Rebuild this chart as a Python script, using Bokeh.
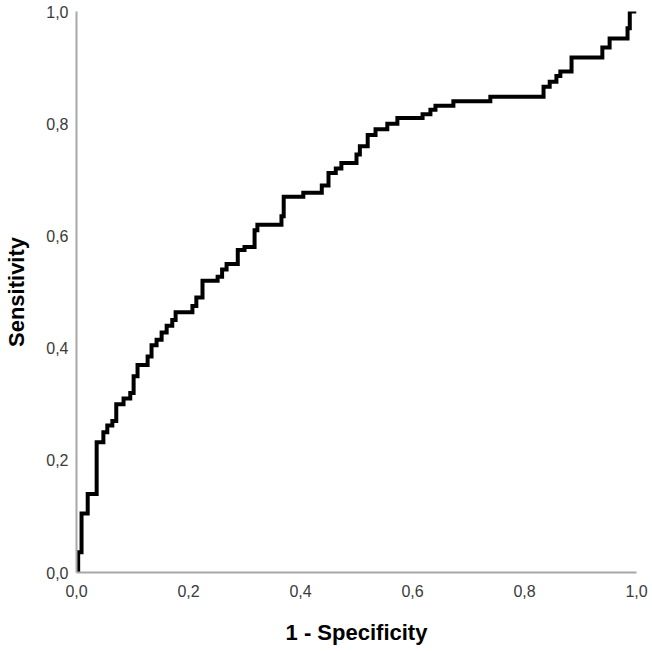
from bokeh.plotting import figure
from bokeh.models import Range1d, FixedTicker, CustomJSTickFormatter
from bokeh.embed import file_html
from bokeh.resources import INLINE

# ROC curve vertices (1 - specificity, sensitivity)
fpr = [0.0, 0.003, 0.003, 0.009, 0.009, 0.02, 0.02, 0.036, 0.036, 0.048, 0.048,
       0.055, 0.055, 0.064, 0.064, 0.071, 0.071, 0.084, 0.084, 0.096, 0.096,
       0.102, 0.102, 0.109, 0.109, 0.127, 0.127, 0.134, 0.134, 0.143, 0.143,
       0.152, 0.152, 0.161, 0.161, 0.171, 0.171, 0.177, 0.177, 0.207, 0.207,
       0.214, 0.214, 0.225, 0.225, 0.252, 0.252, 0.26, 0.26, 0.268, 0.268,
       0.288, 0.288, 0.3, 0.3, 0.318, 0.318, 0.323, 0.323, 0.366, 0.366,
       0.37, 0.37, 0.405, 0.405, 0.438, 0.438, 0.45, 0.45, 0.463, 0.463,
       0.473, 0.473, 0.5, 0.5, 0.506, 0.506, 0.52, 0.52, 0.534, 0.534,
       0.555, 0.555, 0.573, 0.573, 0.618, 0.618, 0.632, 0.632, 0.641, 0.641,
       0.673, 0.673, 0.739, 0.739, 0.834, 0.834, 0.845, 0.845, 0.857, 0.857,
       0.864, 0.864, 0.884, 0.884, 0.939, 0.939, 0.952, 0.952, 0.984, 0.984,
       0.988, 0.988, 1.0]
tpr = [0.0, 0.0, 0.036, 0.036, 0.105, 0.105, 0.14, 0.14, 0.232, 0.232, 0.25,
       0.25, 0.262, 0.262, 0.27, 0.27, 0.3, 0.3, 0.31, 0.31, 0.32,
       0.32, 0.35, 0.35, 0.37, 0.37, 0.385, 0.385, 0.405, 0.405, 0.415,
       0.415, 0.428, 0.428, 0.44, 0.44, 0.45, 0.45, 0.464, 0.464, 0.475,
       0.475, 0.49, 0.49, 0.52, 0.52, 0.527, 0.527, 0.54, 0.54, 0.55,
       0.55, 0.575, 0.575, 0.58, 0.58, 0.61, 0.61, 0.62, 0.62, 0.635,
       0.635, 0.67, 0.67, 0.677, 0.677, 0.69, 0.69, 0.712, 0.712, 0.72,
       0.72, 0.73, 0.73, 0.745, 0.745, 0.76, 0.76, 0.78, 0.78, 0.79,
       0.79, 0.8, 0.8, 0.81, 0.81, 0.817, 0.817, 0.825, 0.825, 0.832,
       0.832, 0.84, 0.84, 0.848, 0.848, 0.866, 0.866, 0.875, 0.875, 0.885,
       0.885, 0.893, 0.893, 0.918, 0.918, 0.936, 0.936, 0.952, 0.952, 0.97,
       0.97, 1.0, 1.0]

tick_values = [0.0, 0.2, 0.4, 0.6, 0.8, 1.0]
x_title = "1 - Specificity"
y_title = "Sensitivity"

p = figure(width=648, height=651, output_backend="svg", toolbar_location=None,
           x_range=Range1d(0, 1), y_range=Range1d(0, 1),
           min_border_left=76, min_border_right=12, min_border_top=11,
           min_border_bottom=79)
p.outline_line_color = None
p.background_fill_color = "white"
p.border_fill_color = "white"
p.xgrid.grid_line_color = None
p.ygrid.grid_line_color = None

p.line(fpr, tpr, line_color="black", line_width=4, line_join="miter")

fmt = CustomJSTickFormatter(code="return tick.toFixed(1).replace('.', ',');")
for ax in (p.xaxis[0], p.yaxis[0]):
    ax.ticker = FixedTicker(ticks=tick_values)
    ax.formatter = fmt
    ax.major_tick_out = 0
    ax.major_tick_in = 0
    ax.minor_tick_out = 0
    ax.minor_tick_in = 0
    ax.major_tick_line_color = None
    ax.minor_tick_line_color = None
    ax.axis_line_color = "#a8a8a8"
    ax.axis_line_width = 2
    ax.major_label_text_font = "Liberation Sans"
    ax.major_label_text_font_size = "16px"
    ax.major_label_text_color = "#3a3a3a"
    ax.axis_label_text_font = "Liberation Sans"
    ax.axis_label_text_font_size = "22px"
    ax.axis_label_text_font_style = "bold"
    ax.axis_label_text_color = "black"

p.xaxis[0].axis_label = x_title
p.yaxis[0].axis_label = y_title
p.xaxis[0].major_label_standoff = 12
p.yaxis[0].major_label_standoff = 8
p.xaxis[0].axis_label_standoff = 20
p.yaxis[0].axis_label_standoff = 14

open("out.html", "w").write(file_html(p, INLINE))
